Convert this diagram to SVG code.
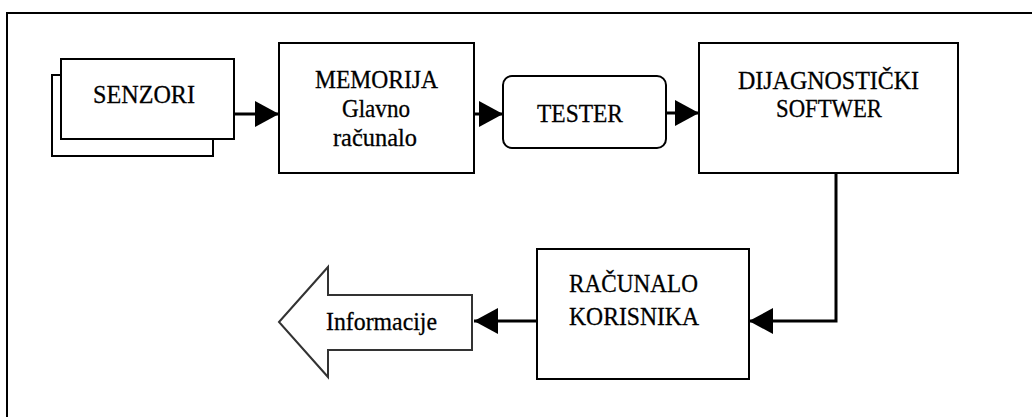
<svg xmlns="http://www.w3.org/2000/svg" width="1032" height="417" viewBox="0 0 1032 417" font-family="'Liberation Serif', 'DejaVu Serif', serif">
<style>
.box{fill:#fff;stroke:#000;stroke-width:2}
.t{font-family:'Liberation Serif','DejaVu Serif',serif;font-size:26px;fill:#000;stroke:#000;stroke-width:0.3}
.c{text-anchor:middle}
.conn{fill:none;stroke:#000;stroke-width:3}
</style>
<defs>
<marker id="ah" markerUnits="userSpaceOnUse" markerWidth="24" markerHeight="26" refX="24" refY="13" orient="auto">
<path d="M0,0 L24,13 L0,26 z" fill="#000"/>
</marker>
</defs>
<rect width="1032" height="417" fill="#fff"/>
<path d="M7,417 V13 H1032" fill="none" stroke="#000" stroke-width="2"/>
<g id="senzori">
<rect class="box" x="52" y="75" width="161" height="81"/>
<rect class="box" x="61" y="59" width="173" height="80"/>
<text class="t c" x="144" y="103" textLength="102" lengthAdjust="spacingAndGlyphs">SENZORI</text>
</g>
<g id="memorija">
<rect class="box" x="279" y="43" width="195" height="130"/>
<text class="t c" x="376.5" y="88" textLength="123" lengthAdjust="spacingAndGlyphs">MEMORIJA</text>
<text class="t c" x="376" y="117" textLength="68" lengthAdjust="spacingAndGlyphs">Glavno</text>
<text class="t c" x="375" y="146" textLength="84" lengthAdjust="spacingAndGlyphs">računalo</text>
</g>
<g id="tester">
<rect class="box" x="503" y="76" width="163" height="72" rx="9" ry="9"/>
<text class="t c" x="580" y="122" textLength="86" lengthAdjust="spacingAndGlyphs">TESTER</text>
</g>
<g id="dijagnosticki">
<rect class="box" x="699" y="43" width="259" height="130"/>
<text class="t c" x="828.5" y="89" textLength="181" lengthAdjust="spacingAndGlyphs">DIJAGNOSTIČKI</text>
<text class="t c" x="829" y="117" textLength="106" lengthAdjust="spacingAndGlyphs">SOFTWER</text>
</g>
<g id="racunalo">
<rect class="box" x="537" y="249" width="212" height="130"/>
<text class="t" x="569" y="292" textLength="129" lengthAdjust="spacingAndGlyphs">RAČUNALO</text>
<text class="t" x="569" y="325" textLength="130" lengthAdjust="spacingAndGlyphs">KORISNIKA</text>
</g>
<g id="informacije">
<polygon points="279,322 328,267 328,295 472,295 472,350 328,350 328,377" fill="#fff" stroke="#333" stroke-width="2"/>
<text class="t" x="326" y="330" textLength="111" lengthAdjust="spacingAndGlyphs">Informacije</text>
</g>
<g id="connectors">
<line class="conn" x1="234" y1="114" x2="279" y2="114" marker-end="url(#ah)"/>
<line class="conn" x1="474" y1="114" x2="503" y2="114" marker-end="url(#ah)"/>
<line class="conn" x1="666" y1="113" x2="699" y2="113" marker-end="url(#ah)"/>
<path class="conn" d="M836,173 V321 H749" marker-end="url(#ah)"/>
<line class="conn" x1="537" y1="321" x2="474" y2="321" marker-end="url(#ah)"/>
</g>
</svg>
